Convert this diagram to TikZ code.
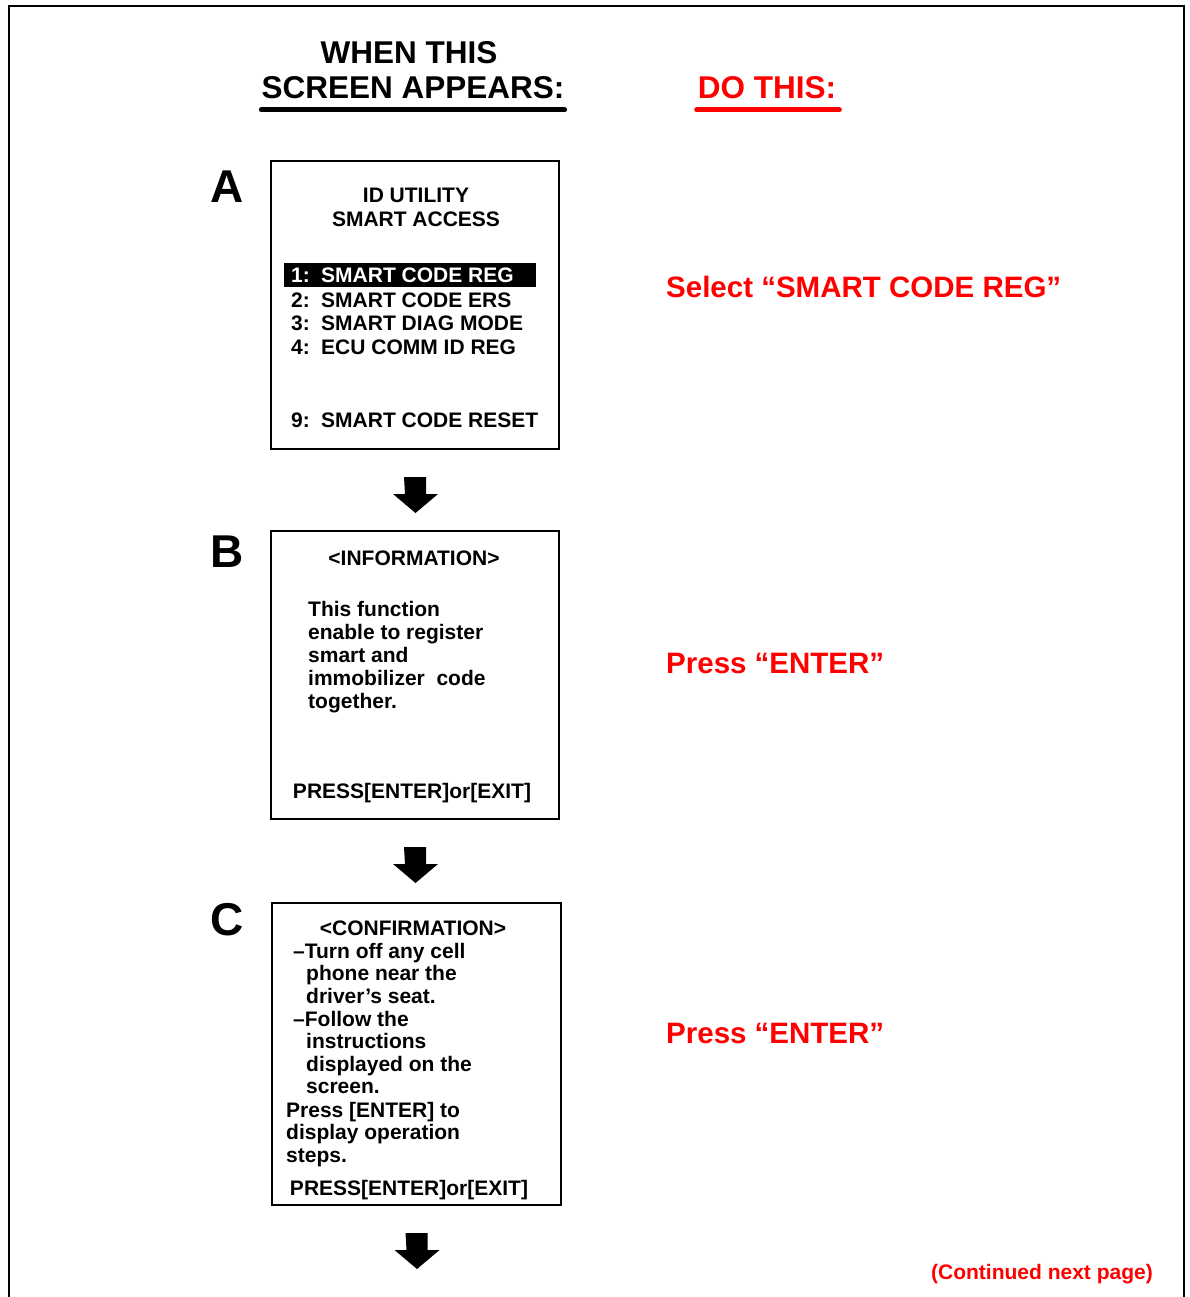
\documentclass[tikz,border=0pt]{standalone}
\usepackage{fontspec}
\setmainfont{Liberation Sans}
\usetikzlibrary{positioning}

\begin{document}
\begin{tikzpicture}[x=1pt,y=-1pt,
    every node/.style={inner sep=0},
    screen/.style={draw,line width=2pt,anchor=north west,minimum width=288,minimum height=288},
    scrtxt/.style={anchor=base west,font=\fontsize{21}{25}\selectfont\bfseries},
    steplbl/.style={anchor=base,font=\fontsize{46}{46}\selectfont\bfseries},
    hdr/.style={anchor=base,font=\fontsize{31.5}{34}\selectfont\bfseries},
    todo/.style={anchor=base west,text=red,font=\fontsize{29.5}{32}\selectfont\bfseries}]
    \useasboundingbox (0,0) rectangle (1189,1297);
    \draw[line width=2pt] (9,1297) -- (9,6) -- (1184,6) -- (1184,1297);

    \node[hdr] (when) at (409,64) {WHEN THIS};
    \node[hdr] (appears) at (413,99) {SCREEN APPEARS:};
    \node[hdr,text=red] (dothis) at (767,99) {DO THIS:};
    \draw[line width=5pt,line cap=round] ([yshift=-11pt]appears.base west) -- ([yshift=-11pt]appears.base east);
    \draw[red,line width=5pt,line cap=round] ([shift={(-1,11)}]dothis.base west) -- ([shift={(3,11)}]dothis.base east);

    \node[screen] (boxA) at (270,160) {};
    \node[screen] (boxB) at (270,530) {};
    \node[screen,minimum width=289,minimum height=302] (boxC) at (271,902) {};

    \node[steplbl] (lblA) at (227,203) {A};
    \node[steplbl] (lblB) at (227,567) {B};
    \node[steplbl] (lblC) at (227,935) {C};

    \node[scrtxt,anchor=base] (titleA) at (416,203) {ID UTILITY};
    \node[scrtxt,anchor=base] (subA) at (416,227) {SMART ACCESS};
    \fill (284,263) rectangle (536,287);
    \node[scrtxt,text=white] (numA1) at (291,282) {1:};
    \node[scrtxt,text=white] (itemA1) at (321,282) {SMART CODE REG};
    \foreach \k/\t/\y in {2/SMART CODE ERS/307, 3/SMART DIAG MODE/330, 4/ECU COMM ID REG/354, 9/SMART CODE RESET/427} {
      \node[scrtxt] (numA\k) at (291,\y) {\k:};
      \node[scrtxt] (itemA\k) at (321,\y) {\t};
    }

    \node[scrtxt,anchor=base] (titleB) at (414,565) {<INFORMATION>};
    \foreach \t [count=\i] in {This function, enable to register, smart and, {immobilizer\ \ code}, together.} {
      \node[scrtxt] (lineB\i) at (308,594+22.8*\i) {\t};
    }
    \node[scrtxt,anchor=base] (keysB) at (412,798) {PRESS[ENTER]or[EXIT]};

    \node[scrtxt,anchor=base] (titleC) at (413,935) {<CONFIRMATION>};
    \foreach \t/\x/\y [count=\i] in {–Turn off any cell/293/958, phone near the/306/980.5, driver’s seat./306/1003,
        –Follow the/293/1026, instructions/306/1048, displayed on the/306/1071, screen./306/1093,
        {Press [ENTER] to}/286/1117, display operation/286/1139, steps./286/1162} {
      \node[scrtxt] (lineC\i) at (\x,\y) {\t};
    }
    \node[scrtxt,anchor=base] (keysC) at (409,1195) {PRESS[ENTER]or[EXIT]};

    \foreach \b in {boxA, boxB, boxC} {
      \fill ([shift={(-11,27)}]\b.south) -- ++(22,0) -- ++(0,17) -- ++(12,0) -- ++(-22.5,19) -- ++(-22.5,-19) -- ++(12,0) -- cycle;
    }

    \node[todo] (doA) at (666,297) {Select “SMART CODE REG”};
    \node[todo] (doB) at (666,673) {Press “ENTER”};
    \node[todo] (doC) at (666,1043) {Press “ENTER”};
    \node[anchor=base east,text=red,font=\fontsize{21}{25}\selectfont\bfseries] (cont) at (1153,1279) {(Continued next page)};
  \end{tikzpicture}
\end{document}
